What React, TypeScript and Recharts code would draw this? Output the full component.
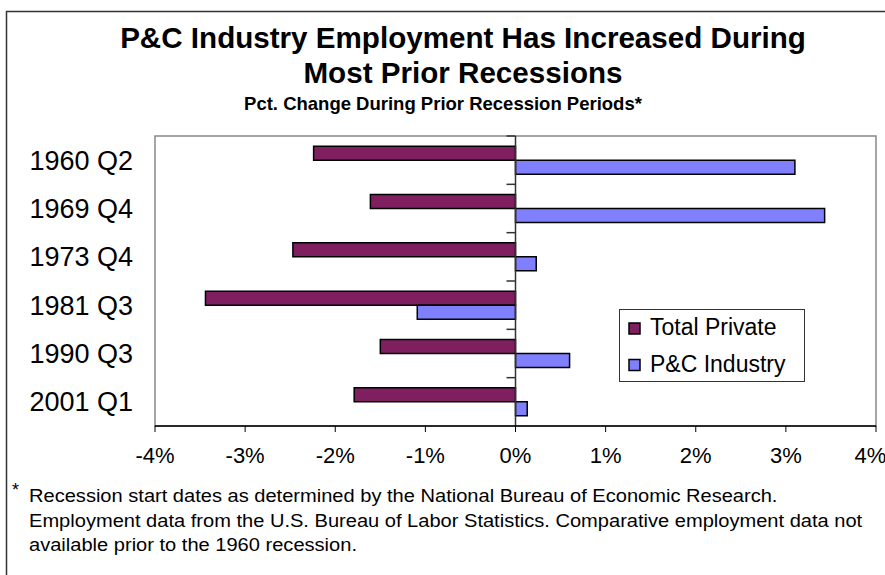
import React from 'react';
import { BarChart, Bar, XAxis, YAxis, ReferenceLine, ReferenceArea } from 'recharts';

const periods = ['1960 Q2', '1969 Q4', '1973 Q4', '1981 Q3', '1990 Q3', '2001 Q1'];
const totalPrivate = [-2.24, -1.61, -2.47, -3.44, -1.5, -1.79];
const pcIndustry = [3.1, 3.43, 0.23, -1.09, 0.6, 0.13];
const xTicks = [-4, -3, -2, -1, 0, 1, 2, 3, 4];
const seriesNames = ['Total Private', 'P&C Industry'];
const seriesKeys = ['total', 'pc'];
const seriesColors = ['#7F1F5F', '#8080FF'];
const titleLines = ['P&C Industry Employment Has Increased During', 'Most Prior Recessions'];
const subtitle = 'Pct. Change During Prior Recession Periods*';
const footnoteLines = [
  'Recession start dates as determined by the National Bureau of Economic Research.',
  'Employment data from the U.S. Bureau of Labor Statistics. Comparative employment data not',
  'available prior to the 1960 recession.',
];

const data = periods.map((p, i) => ({ period: p, total: totalPrivate[i], pc: pcIndustry[i] }));

const FONT = '"Liberation Sans", Arial, sans-serif';

export default function App() {
  return (
    <div style={{ position: 'absolute', left: 0, top: 0, width: 885, height: 575, overflow: 'hidden', background: '#fff', fontFamily: FONT }}>
      <BarChart
        width={885}
        height={575}
        data={data}
        layout="vertical"
        margin={{ top: 136, right: 9, bottom: 109, left: 0 }}
        barCategoryGap="21%"
        barGap={0}
      >
        <XAxis
          type="number"
          domain={[-4, 4]}
          ticks={xTicks}
          tickFormatter={(v: number) => `${v}%`}
          height={40}
          axisLine={{ stroke: '#000', strokeWidth: 1.5 }}
          tickLine={{ stroke: '#000' }}
          tickSize={6}
          tickMargin={15}
          tick={{ fontSize: 22, fill: '#000', fontFamily: FONT }}
          allowDataOverflow
        />
        <YAxis
          type="category"
          dataKey="period"
          width={155}
          axisLine={false}
          tickLine={false}
          tickSize={0}
          tickMargin={22}
          tick={{ fontSize: 27, fill: '#000', fontFamily: FONT }}
        />
        <ReferenceArea x1={-4} x2={4} fill="none" stroke="#888" strokeWidth={1.5} ifOverflow="visible" />
        {seriesKeys.map((k, i) => (
          <Bar key={k} dataKey={k} name={seriesNames[i]} fill={seriesColors[i]} stroke="#000" strokeWidth={1.5} isAnimationActive={false} />
        ))}
        <ReferenceLine x={0} stroke="#333" strokeWidth={1.5} />
        {periods.map((p) => (
          <ReferenceLine key={p} segment={[{ x: -0.1, y: p }, { x: 0, y: p }]} position="start" stroke="#333" strokeWidth={1.5} />
        ))}
      </BarChart>
      <svg width={885} height={575} style={{ position: 'absolute', left: 0, top: 0, pointerEvents: 'none' }}>
        <rect x={6.5} y={11.5} width={900} height={600} fill="none" stroke="#333" strokeWidth={1.5} />
        <text x={463} y={48} textAnchor="middle" fontSize={29.6} fontWeight="bold" fontFamily={FONT} fill="#000">{titleLines[0]}</text>
        <text x={463} y={83} textAnchor="middle" fontSize={29.6} fontWeight="bold" fontFamily={FONT} fill="#000">{titleLines[1]}</text>
        <text x={443} y={110} textAnchor="middle" fontSize={18.5} fontWeight="bold" fontFamily={FONT} fill="#000">{subtitle}</text>
        <rect x={619.5} y={309.5} width={185} height={72} fill="#fff" stroke="#333" strokeWidth={1} />
        {seriesNames.map((n, i) => (
          <g key={n}>
            <rect x={629} y={323 + i * 36.5} width={11} height={11} fill={seriesColors[i]} stroke="#000" strokeWidth={1.5} />
            <text x={650} y={335 + i * 36.5} fontSize={23} fontFamily={FONT} fill="#000">{n}</text>
          </g>
        ))}
        <text x={12} y={496} fontSize={18} fontFamily={FONT} fill="#000">*</text>
        <g transform="translate(29,0) scale(1.085,1)">
          {footnoteLines.map((l, i) => (
            <text key={i} x={0} y={502 + i * 24.7} fontSize={18.5} fontFamily={FONT} fill="#000">{l}</text>
          ))}
        </g>
      </svg>
    </div>
  );
}
